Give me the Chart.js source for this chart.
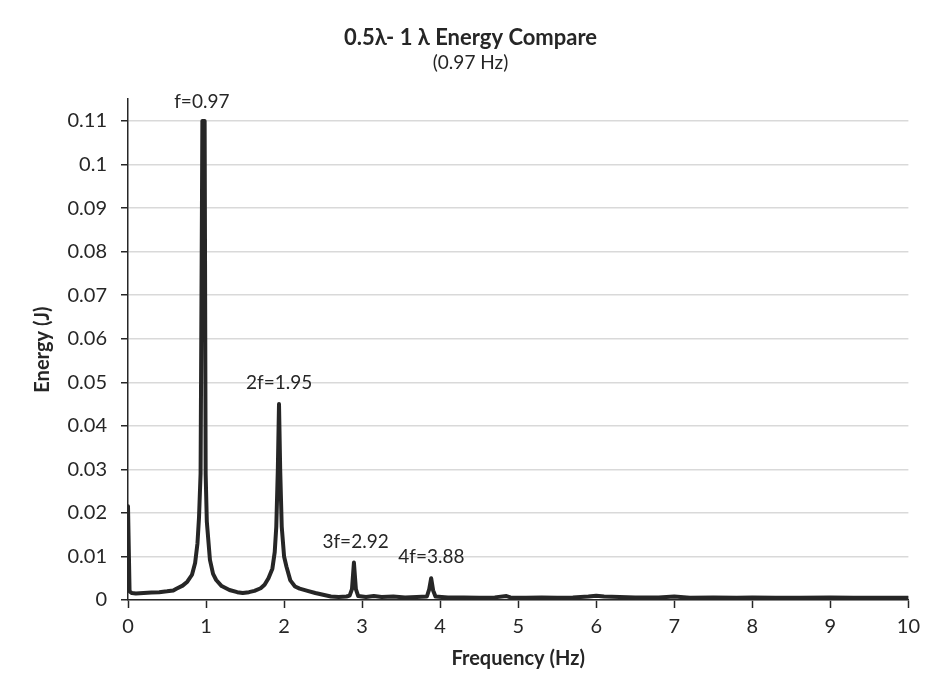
<!DOCTYPE html>
<html>
<head>
<meta charset="utf-8">
<script src="https://cdn.jsdelivr.net/npm/chart.js@4"></script>
<style>
  html, body { margin: 0; padding: 0; background: #fff; }
  #wrap { width: 927px; height: 681px; }
</style>
</head>
<body>
<div id="wrap"><canvas id="energyChart" width="927" height="681"></canvas></div>
<script>
// Frequency (Hz) / Energy (J)
const freq = [
  0, 0.02, 0.05, 0.1, 0.2, 0.3, 0.4, 0.5, 0.58, 0.62, 0.7, 0.76, 0.82, 0.86, 0.89, 0.91, 0.93,
  0.953, 0.982, 0.995, 1.01, 1.05, 1.09, 1.13, 1.2, 1.3, 1.4, 1.47, 1.55, 1.62, 1.7, 1.75, 1.8,
  1.85, 1.88, 1.9, 1.92, 1.935, 1.95, 1.97, 2.0, 2.03, 2.08, 2.14, 2.2, 2.3, 2.4, 2.5, 2.6,
  2.7, 2.8, 2.84, 2.87, 2.895, 2.92, 2.95, 3.05, 3.15, 3.25, 3.4, 3.55, 3.7, 3.83, 3.86,
  3.885, 3.91, 3.94, 4.1, 4.3, 4.5, 4.7, 4.85, 4.9, 5.1, 5.3, 5.5, 5.7, 5.9, 6.0, 6.1, 6.3, 6.5,
  6.8, 7.0, 7.2, 7.5, 7.8, 8.0, 8.3, 8.6, 9.0, 9.3, 9.6, 10.0
];
const energy = [
  0.0215, 0.0020, 0.0016, 0.0015, 0.0016, 0.0017, 0.0018, 0.0020, 0.0022, 0.0026, 0.0033, 0.0042, 0.0058, 0.0085, 0.0130, 0.0190, 0.0290,
  0.1100, 0.1100, 0.0290, 0.0180, 0.0092, 0.0060, 0.0046, 0.0032, 0.0023, 0.0018, 0.0016, 0.0018, 0.0021, 0.0027, 0.0035, 0.0050,
  0.0072, 0.0110, 0.0168, 0.0300, 0.0450, 0.0300, 0.0168, 0.0100, 0.0077, 0.0045, 0.0031, 0.0026, 0.0021, 0.0016, 0.0012, 0.0008,
  0.0007, 0.0008, 0.0010, 0.0025, 0.0086, 0.0025, 0.0009, 0.0007, 0.0009, 0.0007, 0.0008, 0.0006, 0.0007, 0.0008, 0.0025,
  0.0050, 0.0022, 0.0008, 0.0006, 0.0006, 0.0005, 0.0006, 0.0009, 0.0006, 0.0005, 0.0006, 0.0005, 0.0006, 0.0008, 0.0010, 0.0008, 0.0007, 0.0006,
  0.0006, 0.0008, 0.0005, 0.0006, 0.0005, 0.0006, 0.0005, 0.0005, 0.0006, 0.0005, 0.0005, 0.0005
];

// peak labels
const peakText = ['f=0.97', '2f=1.95', '3f=2.92', '4f=3.88'];
const peakX = [0.946, 1.937, 2.916, 3.887];
const peakY = [0.1145, 0.0499, 0.0134, 0.0099];

const FONT = "Lato, 'DejaVu Sans', sans-serif";
const DARK = '#262626';

const peakLabels = {
  id: 'peakLabels',
  afterDatasetsDraw(chart) {
    const { ctx, scales: { x, y } } = chart;
    ctx.save();
    ctx.font = `19px ${FONT}`;
    ctx.fillStyle = DARK;
    ctx.textAlign = 'center';
    ctx.textBaseline = 'middle';
    peakText.forEach((t, i) => {
      ctx.fillText(t, x.getPixelForValue(peakX[i]), y.getPixelForValue(peakY[i]));
    });
    ctx.restore();
  }
};

new Chart(document.getElementById('energyChart'), {
  type: 'line',
  data: {
    datasets: [{
      data: freq.map((f, i) => ({ x: f, y: energy[i] })),
      borderColor: DARK,
      borderWidth: 4,
      borderJoinStyle: 'round',
      borderCapStyle: 'round',
      pointRadius: 0,
      tension: 0,
      fill: false
    }]
  },
  options: {
    responsive: false,
    animation: false,
    layout: { padding: { left: 31, right: 17, top: 0, bottom: 0 } },
    plugins: {
      legend: { display: false },
      tooltip: { enabled: false },
      title: {
        display: true,
        text: '0.5λ- 1 λ Energy Compare',
        color: DARK,
        font: { family: FONT, size: 22, weight: 'bold', lineHeight: 1.2 },
        padding: { top: 25, bottom: 0 }
      },
      subtitle: {
        display: true,
        text: '(0.97 Hz)',
        color: DARK,
        font: { family: FONT, size: 19, lineHeight: 1.2 },
        padding: { top: 0, bottom: 25 }
      }
    },
    scales: {
      x: {
        type: 'linear',
        min: 0,
        max: 10,
        afterFit: s => { s.height = 81; },
        ticks: {
          stepSize: 1,
          color: DARK,
          padding: 7,
          font: { family: FONT, size: 20 },
          callback: v => String(v)
        },
        grid: { drawOnChartArea: false, drawTicks: true, tickLength: 8, tickColor: DARK, tickWidth: 1.5 },
        border: { color: DARK, width: 1.5 },
        title: {
          display: true,
          text: 'Frequency (Hz)',
          color: DARK,
          font: { family: FONT, size: 20, weight: 'bold', lineHeight: 1.2 },
          padding: { top: 0, bottom: 10 }
        }
      },
      y: {
        min: 0,
        max: 0.115,
        afterFit: s => { s.width = 97; },
        ticks: {
          stepSize: 0.01,
          includeBounds: false,
          color: DARK,
          padding: 14,
          font: { family: FONT, size: 20 },
          callback: v => String(+v.toFixed(3))
        },
        grid: { color: '#d9d9d9', lineWidth: 1.5, tickLength: 7, tickColor: DARK, tickWidth: 1.5 },
        border: { color: DARK, width: 1.5 },
        title: {
          display: true,
          text: 'Energy (J)',
          color: DARK,
          font: { family: FONT, size: 20, weight: 'bold', lineHeight: 1.2 },
          padding: { top: 0, bottom: 0 }
        }
      }
    }
  },
  plugins: [peakLabels]
});
</script>
</body>
</html>
